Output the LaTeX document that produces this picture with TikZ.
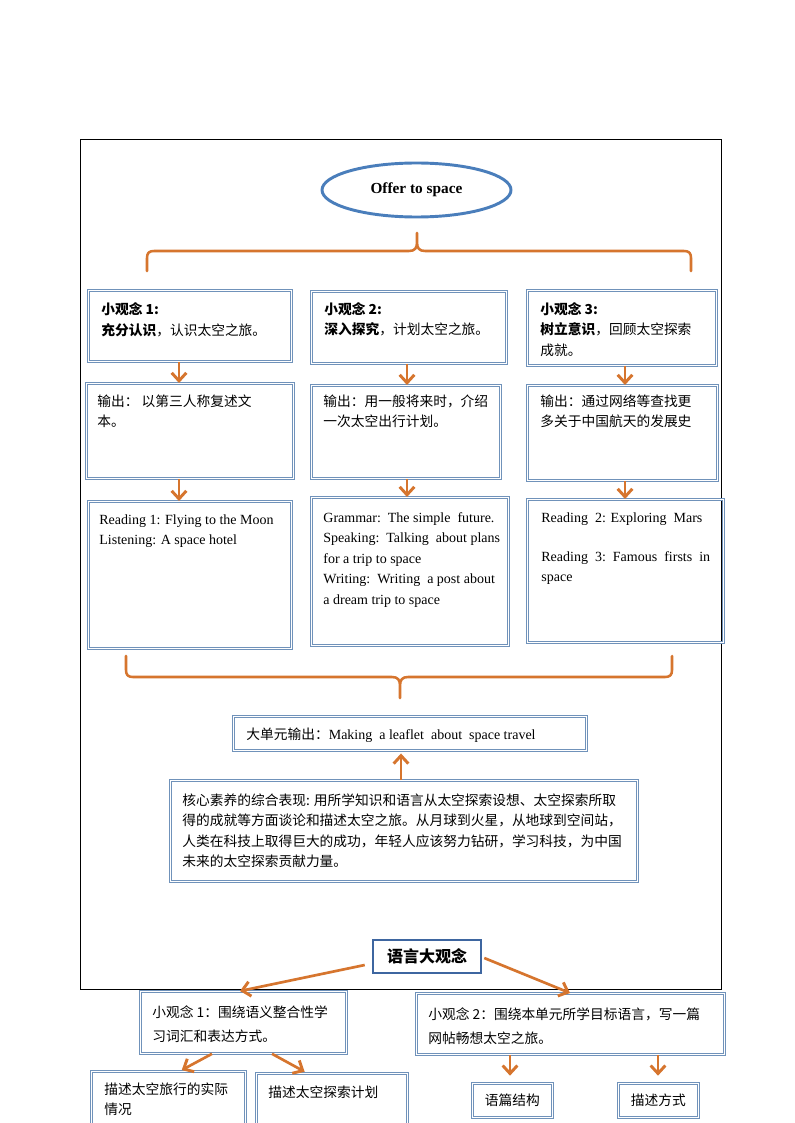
\documentclass[tikz,border=0pt]{standalone}
\usepackage{fontspec}
\setmainfont{Liberation Serif}
\newfontfamily\cjk{Noto Sans CJK SC}
\usetikzlibrary{arrows.meta,shapes.geometric}
\newlength\pxu \setlength\pxu{0.75pt}
\newcommand\zh{\cjk\fontsize{10.3pt}{15.4pt}\selectfont}
\newcommand\en{\rmfamily\fontsize{10.5pt}{15.4pt}\selectfont}
% #1 width, #2 height, #3 left pad, #4 top pad, #5 text (all in px)
\newcommand\bxc[5]{\parbox[t][#2\pxu][t]{#1\pxu}{\leftskip=#3\pxu\rightskip=8\pxu\vspace*{#4\pxu}\vspace*{3.5\pxu}\strut#5}}
\definecolor{orng}{RGB}{214,117,46}
\definecolor{bxcol}{RGB}{112,146,186}
\definecolor{ellcol}{RGB}{74,126,187}
\definecolor{gcol}{RGB}{62,102,160}
\tikzset{
  bx/.style={draw=bxcol, double=white, double distance=1.1pt, line width=0.6pt, inner sep=0pt, anchor=north west},
  bxs/.style={draw=bxcol, double=white, double distance=1.1pt, line width=0.6pt, inner sep=0pt, minimum width=60pt, minimum height=25.5pt, anchor=north west, font=\zh},
  gbox/.style={draw=gcol, line width=1.9pt, inner sep=0pt, minimum width=81pt, minimum height=24.75pt, font=\cjk\bfseries\fontsize{12pt}{14pt}\selectfont},
  arr/.style={draw=orng, line width=2pt, -{Straight Barb[length=6pt,width=11pt,line width=2.2pt]}},
  brace/.style={draw=orng, line width=1.9pt, line join=round, line cap=round},
}
\begin{document}
\begin{tikzpicture}[x=0.75pt,y=-0.75pt]
\useasboundingbox (0,0) rectangle (794,1123);
\fill[white] (0,0) rectangle (794,1123);
% outer frame
\draw[black, line width=0.75pt] (80,140) rectangle (721,989);
% title ellipse
\node[ellipse, draw=ellcol, line width=2.2pt, minimum width=141.75pt, minimum height=40.5pt, font=\rmfamily\bfseries\fontsize{11.5pt}{13pt}\selectfont] (top) at (416.5,190) {Offer to space};
% top brace
\draw[brace] (147,271) -- (147,258) .. controls (147,253) and (149,251) .. (154,251) -- (409,251) .. controls (415,251) and (417,248) .. (417,242) -- (417,233) -- (417,242) .. controls (417,248) and (419,251) .. (425,251) -- (684,251) .. controls (689,251) and (691,253) .. (691,258) -- (691,271);
% row 1
\node[bx] (b1) at (88,290) {\bxc{203}{71}{13}{9}{\zh\textbf{小观念 1:}\\\textbf{充分认识}，认识太空之旅。}};
\node[bx] (b2) at (311,291) {\bxc{195}{72}{13}{7.6}{\zh\textbf{小观念 2:}\\\textbf{深入探究}，计划太空之旅。}};
\node[bx] (b3) at (527,290) {\bxc{189}{75}{13}{8.6}{\zh\textbf{小观念 3:}\\\textbf{树立意识}，回顾太空探索\\成就。}};
% row 2
\node[bx] (c1) at (86,383) {\bxc{207}{95}{11}{7.6}{\zh 输出： 以第三人称复述文\\本。}};
\node[bx] (c2) at (311,385) {\bxc{189}{93}{12}{5.6}{\zh 输出：用一般将来时，介绍\\一次太空出行计划。}};
\node[bx] (c3) at (527,385) {\bxc{190}{95}{13}{5.6}{\zh 输出：通过网络等查找更\\多关于中国航天的发展史}};
% row 3
\node[bx] (d1) at (88,501) {\bxc{203}{147}{11}{8}{\en Reading 1: Flying to the Moon\\Listening: A space hotel}};
\node[bx] (d2) at (311,497) {\bxc{197}{148}{12}{10}{\en Grammar:\ \ The simple\ \ future.\\Speaking:\ \ Talking\ \ about plans\\for a trip to space\\Writing:\ \ Writing\ \ a post about\\a dream trip to space}};
\node[bx] (d3) at (527,499) {\bxc{196}{143}{14}{8}{\en Reading\ \ 2: Exploring\ \ Mars\\[14pt]Reading\ \ 3:\ \ Famous\ \ firsts\ \ in\\space}};
% arrows between rows
\coordinate (xa) at (179,0);
\coordinate (xb) at (407,0);
\coordinate (xc) at (625,0);
\draw[arr] (xa |- b1.south) -- (xa |- c1.north);
\draw[arr] (xb |- b2.south) -- (xb |- c2.north);
\draw[arr] (xc |- b3.south) -- (xc |- c3.north);
\draw[arr] (xa |- c1.south) -- (xa |- d1.north);
\draw[arr] (xb |- c2.south) -- (xb |- d2.north);
\draw[arr] (xc |- c3.south) -- (xc |- d3.north);
% bottom brace
\draw[brace] (126,656) -- (126,670) .. controls (126,675) and (128,677) .. (133,677) -- (392,677) .. controls (398,677) and (400,680) .. (400,686) -- (400,698) -- (400,686) .. controls (400,680) and (402,677) .. (408,677) -- (665,677) .. controls (670,677) and (672,675) .. (672,670) -- (672,656);
% big output
\node[bx] (e) at (233,716) {\bxc{353}{34}{13}{7.6}{{\zh 大单元输出：}\en Making\ \ a leaflet\ \ about\ \ space travel}};
% core
\node[bx] (f) at (170,780) {\bxc{467}{101}{12}{9.6}{\zh 核心素养的综合表现: 用所学知识和语言从太空探索设想、太空探索所取\\得的成就等方面谈论和描述太空之旅。从月球到火星，从地球到空间站，\\人类在科技上取得巨大的成功，年轻人应该努力钻研，学习科技，为中国\\未来的太空探索贡献力量。}};
\coordinate (xd) at (401,0);
\draw[arr, shorten >=2pt] (xd |- f.north) -- (xd |- e.south);
% language big idea
\node[gbox] (g) at (427,956.5) {语言大观念};
\node[bx] (h) at (140,991) {\bxc{206}{62}{12}{10.6}{\zh 小观念 1：围绕语义整合性学\\[2.5pt]习词汇和表达方式。}};
\node[bx] (i) at (416,993) {\bxc{308}{61}{12}{10.6}{\zh 小观念 2：围绕本单元所学目标语言，写一篇\\[2.5pt]网帖畅想太空之旅。}};
\coordinate (xe) at (240,0);
\coordinate (xf) at (570,0);
\draw[arr] ([shift={(-7,8.5)}]g.west) -- (xe |- h.north);
\draw[arr] ([shift={(2,1.5)}]g.east) -- (xf |- i.north);
% bottom boxes
\node[bx] (j) at (91,1071) {\bxc{154}{70}{13}{7.6}{\zh 描述太空旅行的实际\\情况}};
\node[bx] (k) at (256,1073) {\bxc{151}{70}{12}{8.6}{\zh 描述太空探索计划}};
\node[bxs] (l) at (472,1083) {语篇结构};
\node[bxs] (m) at (618,1083) {描述方式};
\coordinate (xg) at (212,0);
\coordinate (xh) at (180,0);
\coordinate (xi) at (272,0);
\coordinate (xj) at (307,0);
\coordinate (xk) at (510,0);
\coordinate (xl) at (658,0);
\draw[arr, shorten >=1.5pt] (xg |- h.south) -- (xh |- j.north);
\draw[arr, shorten >=2pt] (xi |- h.south) -- (xj |- k.north);
\draw[arr, shorten >=5.5pt] (xk |- i.south) -- (xk |- l.north);
\draw[arr, shorten >=5.5pt] (xl |- i.south) -- (xl |- m.north);
\end{tikzpicture}
\end{document}
